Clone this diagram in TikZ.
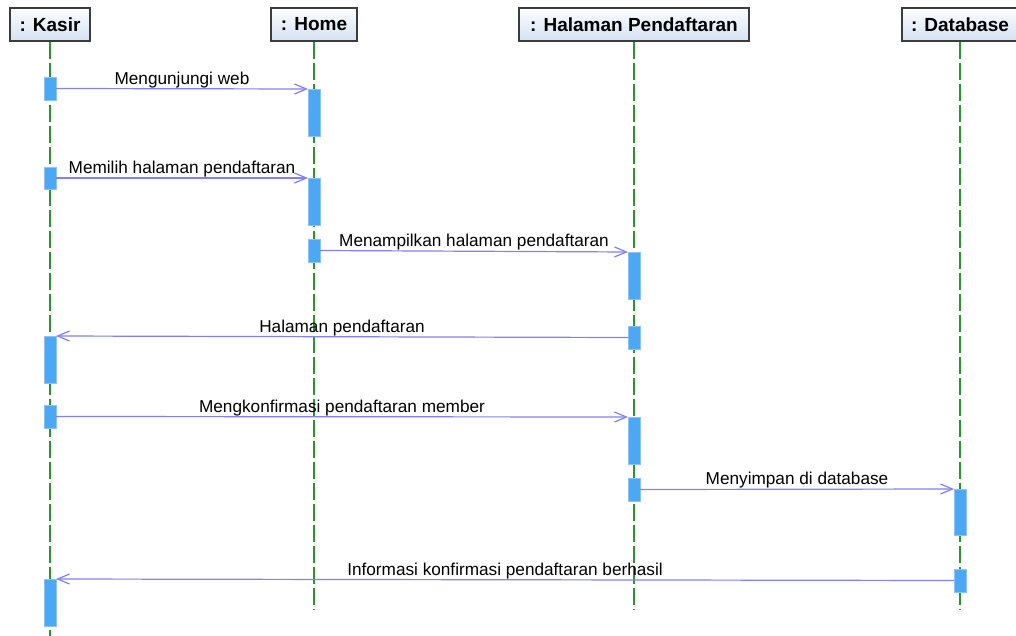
\documentclass[tikz,border=0pt]{standalone}
\usepackage{fontspec}
\setmainfont{Liberation Sans}
\usetikzlibrary{arrows.meta}
\definecolor{lifegreen}{RGB}{40,150,40}
\definecolor{barblue}{RGB}{74,168,245}
\definecolor{barline}{RGB}{140,196,250}
\definecolor{msgblue}{RGB}{128,128,255}
\definecolor{hdrtop}{RGB}{252,253,255}
\definecolor{hdrbot}{RGB}{212,226,243}
\definecolor{hdrline}{RGB}{60,60,60}
\tikzset{
  header/.style={draw=hdrline, line width=1.3pt, top color=hdrtop, bottom color=hdrbot,
    minimum height=33pt, inner sep=0pt, font=\fontsize{19}{22}\selectfont\bfseries},
  lifeline/.style={draw=lifegreen, line width=1.3pt, dash pattern=on 17pt off 4pt},
  actbar/.style={fill=barblue, draw=barline, line width=0.6pt, minimum width=12pt,
    inner sep=0pt, outer sep=0pt},
  msg/.style={draw=msgblue, line width=1.2pt, -{Straight Barb[length=12pt,width=10pt]}},
  msglabel/.style={font=\fontsize{17.2}{20}\selectfont, anchor=base, inner sep=0pt, yshift=4.5pt}
}
\begin{document}
\begin{tikzpicture}[x=1pt,y=-1pt]
  \clip (0,0) rectangle (1016,636);
  \fill[white] (0,0) rectangle (1016,636);

  % object headers
  \node[header, minimum width=80pt]  (kasir) at (50,24.5)  {: Kasir};
  \node[header, minimum width=86pt]  (home)  at (314,24.5) {: Home};
  \node[header, minimum width=230pt] (page)  at (634,24.5) {: Halaman Pendaftaran};
  \node[header, minimum width=116pt] (db)    at (960,24.5) {: Database};

  % lifelines
  \coordinate (kasirEnd) at (50,640);
  \coordinate (homeEnd)  at (314,610);
  \coordinate (pageEnd)  at (634,610);
  \coordinate (dbEnd)    at (960,610);
  \draw[lifeline] (kasir.south) -- (kasirEnd);
  \draw[lifeline] (home.south)  -- (homeEnd);
  \draw[lifeline] (page.south)  -- (pageEnd);
  \draw[lifeline] (db.south)    -- (dbEnd);

  % activation bars: Kasir
  \node[actbar, minimum height=23pt] (k1) at (50,88.5)  {};
  \node[actbar, minimum height=22pt] (k2) at (50,178)   {};
  \node[actbar, minimum height=47pt] (k3) at (50,359.5) {};
  \node[actbar, minimum height=23pt] (k4) at (50,416.5) {};
  \node[actbar, minimum height=47pt] (k5) at (50,602.5) {};
  % activation bars: Home
  \node[actbar, minimum height=47pt] (h1) at (314,112.5) {};
  \node[actbar, minimum height=47pt] (h2) at (314,201.5) {};
  \node[actbar, minimum height=23pt] (h3) at (314,250.5) {};
  % activation bars: Halaman Pendaftaran
  \node[actbar, minimum height=47pt] (p1) at (634,275.5) {};
  \node[actbar, minimum height=23pt] (p2) at (634,337.5) {};
  \node[actbar, minimum height=47pt] (p3) at (634,440.5) {};
  \node[actbar, minimum height=23pt] (p4) at (634,489.5) {};
  % activation bars: Database
  \node[actbar, minimum height=46pt] (d1) at (960,512)   {};
  \node[actbar, minimum height=23pt] (d2) at (960,580.5) {};

  % messages
  \draw[msg] (k1.east) -- (h1.north west)
    node[msglabel, midway] {Mengunjungi web};
  \draw[msg] (k2.east) -- (h2.north west)
    node[msglabel, midway] {Memilih halaman pendaftaran};
  \draw[msg] (h3.east) -- (p1.north west)
    node[msglabel, midway] {Menampilkan halaman pendaftaran};
  \draw[msg] (p2.west) -- (k3.north east)
    node[msglabel, midway] {Halaman pendaftaran};
  \draw[msg] (k4.east) -- (p3.north west)
    node[msglabel, midway] {Mengkonfirmasi pendaftaran member};
  \draw[msg] (p4.east) -- (d1.north west)
    node[msglabel, midway] {Menyimpan di database};
  \draw[msg] (d2.west) -- (k5.north east)
    node[msglabel, midway] {Informasi konfirmasi pendaftaran berhasil};
\end{tikzpicture}
\end{document}
